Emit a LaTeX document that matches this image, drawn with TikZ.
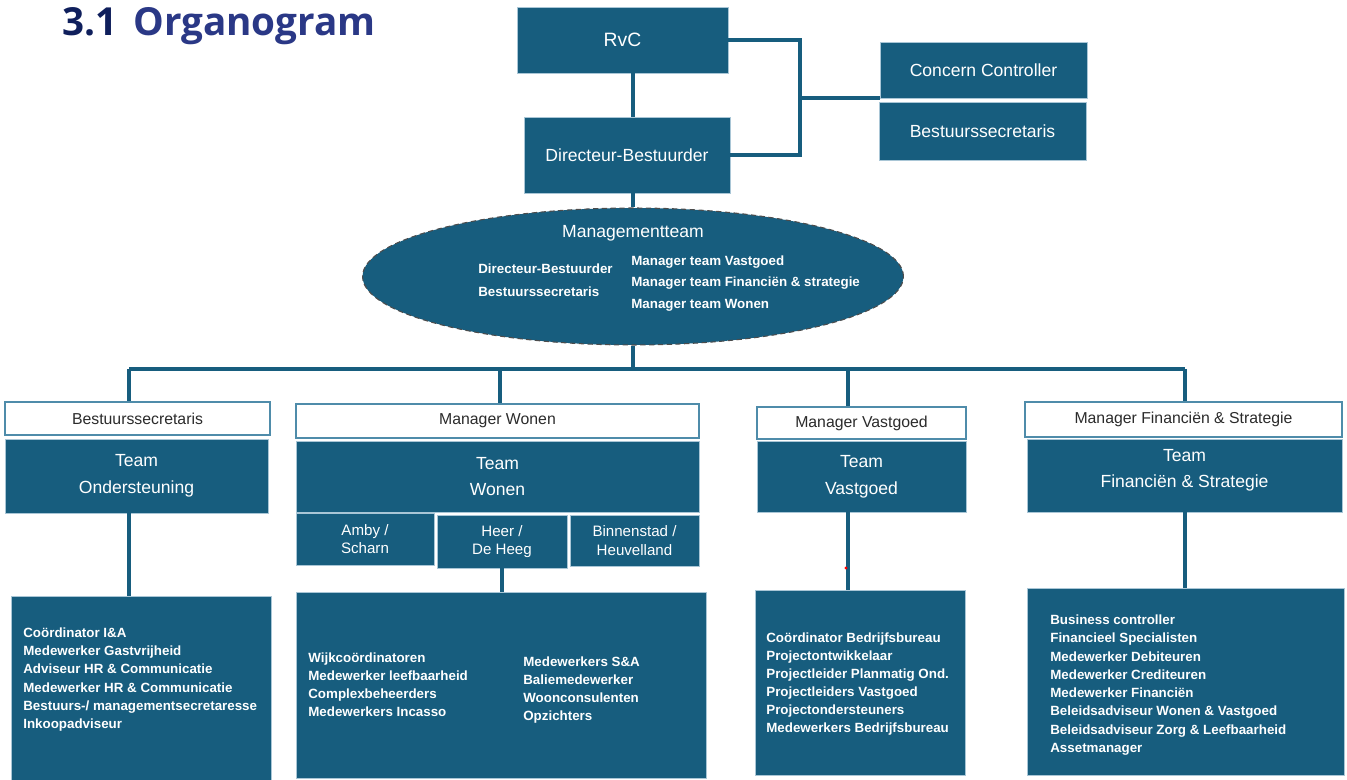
\documentclass[tikz,border=0pt]{standalone}
\usepackage{fontspec}
\setmainfont{Liberation Sans}
\newfontfamily\titlefont{Open Sans}
\usetikzlibrary{shapes.geometric}
\definecolor{orgteal}{HTML}{175D7E}
\definecolor{orgedge}{HTML}{A9C6D6}
\definecolor{hdredge}{HTML}{4F8CAA}
\definecolor{titledark}{HTML}{0F1F5C}
\definecolor{titleblue}{HTML}{2A3886}
\definecolor{hdrtext}{HTML}{2B2B2B}
\tikzset{
  tealbox/.style={draw=orgedge, line width=0.4pt, fill=orgteal, text=white, align=center, inner sep=0pt},
  hdrbox/.style={draw=hdredge, line width=1pt, fill=white, text=hdrtext, font=\fontsize{9}{11}\selectfont, inner sep=0pt},
  listtxt/.style={text=white, font=\bfseries\fontsize{7.6}{9}\selectfont, inner sep=0pt, anchor=base west},
  link/.style={draw=orgteal, line width=1.8pt},
}
\begin{document}
\begin{tikzpicture}[x=0.02cm, y=-0.02cm]
  \useasboundingbox (0,0) rectangle (1347,780);
  % title
  \node[anchor=base west, inner sep=0pt, font=\titlefont\bfseries\fontsize{22}{26}\selectfont] (title) at (62,36)
    {\textcolor{titledark}{3.1}\hspace{9pt}\textcolor{titleblue}{Organogram}};
  % top of the organisation
  \node[tealbox, minimum width=4.22cm, minimum height=1.32cm, font=\fontsize{11}{13}\selectfont] (rvc) at (622.5,40) {RvC};
  \node[tealbox, minimum width=4.12cm, minimum height=1.52cm, font=\fontsize{10}{12}\selectfont] (dirb) at (627,155) {Directeur-Bestuurder};
  \node[tealbox, minimum width=4.14cm, minimum height=1.12cm, font=\fontsize{10}{12}\selectfont] (conc) at (983.5,70) {Concern Controller};
  \node[tealbox, minimum width=4.14cm, minimum height=1.16cm, font=\fontsize{10}{12}\selectfont] (bsec) at (982.5,131) {Bestuurssecretaris};
  \coordinate (jn) at (800,98);
  % managementteam
  \node[ellipse, draw=gray!60!black, densely dashed, line width=0.6pt, fill=orgteal, minimum width=10.82cm, minimum height=2.74cm, inner sep=0pt] (mt) at (633,276.5) {};
  \node[anchor=base, inner sep=0pt, text=white, font=\fontsize{10}{12}\selectfont] (mtname) at (633,238) {Managementteam};
  \foreach \t [count=\i from 0] in {Directeur-Bestuurder, Bestuurssecretaris}
    \node[listtxt] (mtl\i) at (478,273.5+23*\i) {\t};
  \foreach \t [count=\i from 0] in {Manager team Vastgoed, Manager team Financiën \& strategie, Manager team Wonen}
    \node[listtxt] (mtr\i) at (631,265.5+21.5*\i) {\t};
  % links at the top
  \draw[link] (rvc.south -| mt.north) -- (dirb.north -| mt.north);
  \draw[link] (dirb.south -| mt.north) -- (mt.north);
  \draw[link] (rvc.east) -| (jn |- dirb.east) -- (dirb.east);
  \draw[link] (jn) -- (jn -| conc.west);
  % managers
  \node[hdrbox, minimum width=5.30cm, minimum height=0.66cm] (hOnd) at (137.5,418.5) {Bestuurssecretaris};
  \node[hdrbox, minimum width=8.06cm, minimum height=0.68cm] (hWon) at (497.5,421) {Manager Wonen};
  \node[hdrbox, minimum width=4.18cm, minimum height=0.64cm] (hVas) at (861.5,423) {Manager Vastgoed};
  \node[hdrbox, minimum width=6.34cm, minimum height=0.70cm] (hFin) at (1183.5,419.5) {Manager Financiën \& Strategie};
  % teams
  \node[tealbox, minimum width=5.26cm, minimum height=1.48cm, font=\fontsize{10}{15.3}\selectfont] (tOnd) at (136.5,476) {Team\\Ondersteuning};
  \node[tealbox, minimum width=8.06cm, minimum height=1.42cm, font=\fontsize{10}{15.3}\selectfont] (tWon) at (497.5,476.5) {Team\\Wonen};
  \node[tealbox, minimum width=4.18cm, minimum height=1.42cm, font=\fontsize{10}{15.3}\selectfont] (tVas) at (861.5,476.5) {Team\\Vastgoed};
  \node[tealbox, minimum width=6.30cm, minimum height=1.46cm, text depth=8pt, font=\fontsize{10}{15.3}\selectfont] (tFin) at (1184.5,475.5) {Team\\Financiën \& Strategie};
  % areas of team wonen
  \node[tealbox, minimum width=2.76cm, minimum height=1.04cm, font=\fontsize{8.6}{10.5}\selectfont] (sAmb) at (365,539) {Amby /\\Scharn};
  \node[tealbox, minimum width=2.60cm, minimum height=1.06cm, font=\fontsize{8.6}{10.5}\selectfont] (sHee) at (502,541.5) {Heer /\\De Heeg};
  \node[tealbox, minimum width=2.58cm, minimum height=1.02cm, font=\fontsize{8.6}{10.5}\selectfont] (sBin) at (634.5,540.5) {Binnenstad /\\Heuvelland};
  % staff
  \node[tealbox, minimum width=5.20cm, minimum height=3.68cm] (lOnd) at (141,688) {};
  \node[tealbox, minimum width=8.20cm, minimum height=3.72cm] (lWon) at (501,685) {};
  \node[tealbox, minimum width=4.20cm, minimum height=3.70cm] (lVas) at (860,682.5) {};
  \node[tealbox, minimum width=6.34cm, minimum height=3.74cm] (lFin) at (1185.5,681.5) {};
  \foreach \t [count=\i from 0] in {Coördinator I\&A, Medewerker Gastvrijheid, Adviseur HR \& Communicatie,
      Medewerker HR \& Communicatie, Bestuurs-/ managementsecretaresse, Inkoopadviseur}
    \node[listtxt] (ond\i) at (23,637.5+18.2*\i) {\t};
  \foreach \t [count=\i from 0] in {Wijkcoördinatoren, Medewerker leefbaarheid, Complexbeheerders, Medewerkers Incasso}
    \node[listtxt] (wonl\i) at (308,662.5+18*\i) {\t};
  \foreach \t [count=\i from 0] in {Medewerkers S\&A, Baliemedewerker, Woonconsulenten, Opzichters}
    \node[listtxt] (wonr\i) at (523,666.5+18*\i) {\t};
  \foreach \t [count=\i from 0] in {Coördinator Bedrijfsbureau, Projectontwikkelaar, Projectleider Planmatig Ond.,
      Projectleiders Vastgoed, Projectondersteuners, Medewerkers Bedrijfsbureau}
    \node[listtxt] (vas\i) at (766,642.5+18*\i) {\t};
  \foreach \t [count=\i from 0] in {Business controller, Financieel Specialisten, Medewerker Debiteuren,
      Medewerker Crediteuren, Medewerker Financiën, Beleidsadviseur Wonen \& Vastgoed,
      Beleidsadviseur Zorg \& Leefbaarheid, Assetmanager}
    \node[listtxt] (fin\i) at (1050,624.5+18.3*\i) {\t};
  % bus and drops
  \coordinate (busL) at (129,369);
  \coordinate (busR) at (1185,369);
  \draw[link] (mt.south) -- (mt.south |- busL);
  \draw[link] (busL) -- (busR);
  \foreach \n/\x in {Ond/129, Won/500, Vas/848, Fin/1185} {
    \coordinate (d\n) at (\x,369);
    \draw[link] (d\n) -- (d\n |- h\n.north);
  }
  \draw[link] (dOnd |- tOnd.south) -- (dOnd |- lOnd.north);
  \draw[link] (sHee.south) -- (sHee.south |- lWon.north);
  \draw[link] (dVas |- tVas.south) -- (dVas |- lVas.north);
  \draw[link] (dFin |- tFin.south) -- (dFin |- lFin.north);
  \fill[red] (846,568) circle (0.9pt);
\end{tikzpicture}
\end{document}
